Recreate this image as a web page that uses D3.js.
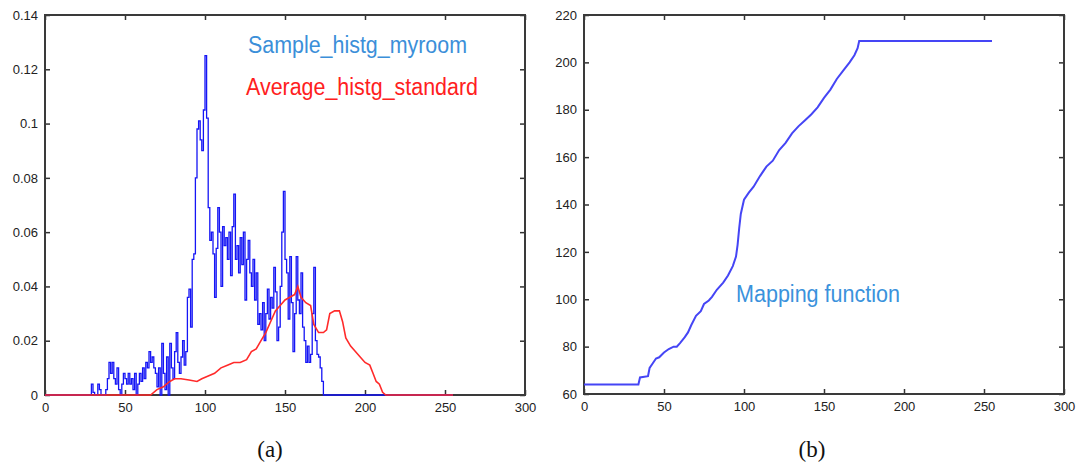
<!DOCTYPE html>
<html>
<head>
<meta charset="utf-8">
<script src="https://cdn.jsdelivr.net/npm/d3@7"></script>
<style>
  body { margin: 0; background: #fff; }
  .tick text { font-family: 'Liberation Sans', Arial, sans-serif; font-size: 13px; fill: #222; }
</style>
</head>
<body>
<div id="canvas"></div>
<script>
// panel (a): histograms, blue starts at bin 28
const blueStart = 28
const blueValues = [
  0, 0.004, 0.001, 0, 0, 0.004, 0.002, 0, 0, 0,
  0.002, 0.006, 0.012, 0.008, 0.012, 0.006, 0.004, 0.01, 0.002, 0,
  0.004, 0.008, 0.006, 0.004, 0.008, 0.004, 0.006, 0.002, 0.008, 0,
  0.004, 0.008, 0.005, 0.01, 0.006, 0.012, 0.01, 0.016, 0.012, 0.014,
  0.01, 0.008, 0.003, 0.01, 0, 0.019, 0.008, 0.002, 0.014, 0,
  0.019, 0.01, 0.006, 0.016, 0.023, 0.012, 0.008, 0.014, 0.02, 0.011,
  0.016, 0.036, 0.039, 0.025, 0.05, 0.052, 0.08, 0.098, 0.101, 0.094,
  0.09, 0.105, 0.125, 0.102, 0.069, 0.057, 0.06, 0.052, 0.036, 0.054,
  0.069, 0.06, 0.04, 0.062, 0.055, 0.058, 0.05, 0.06, 0.044, 0.062,
  0.074, 0.05, 0.055, 0.045, 0.058, 0.048, 0.06, 0.035, 0.05, 0.057,
  0.045, 0.04, 0.05, 0.035, 0.045, 0.026, 0.03, 0.024, 0.034, 0.02,
  0.03, 0.039, 0.028, 0.036, 0.032, 0.047, 0.038, 0.02, 0.025, 0.04,
  0.06, 0.075, 0.05, 0.045, 0.028, 0.051, 0.034, 0.016, 0.03, 0.051,
  0.035, 0.03, 0.045, 0.025, 0.02, 0.012, 0.018, 0.012, 0.015, 0.03,
  0.047, 0.02, 0.015, 0.014, 0.01, 0.005, 0, 0
]
const histEnd = 255

const redX = [0, 66, 70, 74, 78, 81, 85, 90, 95, 98, 102, 106, 110, 114, 118, 122, 126, 129, 132, 135,
  138, 141, 144, 147, 150, 153, 156, 158, 160, 163, 166, 168, 171, 174, 176, 178, 181, 184, 186, 188,
  191, 194, 197, 200, 203, 205, 207, 209, 211, 213, 255]
const redY = [0, 0, 0.002, 0.003, 0.005, 0.006, 0.006, 0.0055, 0.005, 0.006, 0.007, 0.008, 0.01, 0.011, 0.012, 0.012, 0.013, 0.016, 0.017, 0.02,
  0.023, 0.027, 0.031, 0.033, 0.035, 0.036, 0.037, 0.04, 0.036, 0.034, 0.033, 0.026, 0.023, 0.023, 0.024, 0.03, 0.031, 0.031, 0.027, 0.021,
  0.018, 0.016, 0.014, 0.012, 0.011, 0.008, 0.005, 0.004, 0.001, 0, 0]

const xTicks = [0, 50, 100, 150, 200, 250, 300]
const yTicksA = [0, 0.02, 0.04, 0.06, 0.08, 0.1, 0.12, 0.14]
const yTicksB = [60, 80, 100, 120, 140, 160, 180, 200, 220]

// panel (b): mapping function
const mapX = [0, 34, 35, 40, 41, 43, 45, 47, 50, 53, 56, 58, 60, 63, 65, 67, 70, 73, 75, 78,
  80, 83, 87, 90, 93, 95, 96, 97, 98, 100, 103, 106, 110, 114, 118, 122, 126, 130, 134, 138,
  142, 146, 150, 154, 158, 162, 166, 169, 171, 172, 255]
const mapY = [64, 64, 67, 67.5, 71, 73, 75, 75.5, 77.5, 79, 80, 80, 81.5, 84, 86, 89, 93, 95, 98, 99.5,
  101, 104, 107, 110, 114, 118, 123, 130, 136, 142, 145, 147.5, 152, 156, 158.5, 163, 166, 170, 173, 175.5,
  178, 181, 185, 188.5, 193, 196.5, 200, 203, 206, 209, 209]

const width = 1082
const height = 463

const svg = d3.select('#canvas')
  .append('svg')
    .attr('width', width)
    .attr('height', height)

function panel(box, yDomain, yTicks) {
  const g = svg.append('g')
  const x = d3.scaleLinear().domain([0, 300]).range([box.left, box.right])
  const y = d3.scaleLinear().domain(yDomain).range([box.bottom, box.top])
  const fmt = d => String(+d.toFixed(2))

  g.append('g')
    .attr('transform', `translate(0, ${box.bottom})`)
    .call(d3.axisBottom(x).tickValues(xTicks).tickSize(-5).tickSizeOuter(0).tickPadding(8).tickFormat(fmt))
  g.append('g')
    .attr('transform', `translate(0, ${box.top})`)
    .call(d3.axisTop(x).tickValues(xTicks).tickSize(-5).tickSizeOuter(0).tickFormat(''))
  g.append('g')
    .attr('transform', `translate(${box.left}, 0)`)
    .call(d3.axisLeft(y).tickValues(yTicks).tickSize(-5).tickSizeOuter(0).tickPadding(7).tickFormat(fmt))
  g.append('g')
    .attr('transform', `translate(${box.right}, 0)`)
    .call(d3.axisRight(y).tickValues(yTicks).tickSize(-5).tickSizeOuter(0).tickFormat(''))

  g.selectAll('.domain').remove()
  g.selectAll('.tick line').attr('stroke', '#333').attr('stroke-width', 1.5)

  return { g, x, y }
}

function frame(g, box) {
  g.append('rect')
    .attr('x', box.left)
    .attr('y', box.top)
    .attr('width', box.right - box.left)
    .attr('height', box.bottom - box.top)
    .attr('fill', 'none')
    .attr('stroke', '#3a3a3a')
    .attr('stroke-width', 2)
}

// (a)
const boxA = { left: 45, right: 525, top: 15, bottom: 395 }
const a = panel(boxA, [0, 0.14], yTicksA)

const bluePts = d3.range(0, histEnd + 1).map(i => {
  const k = i - blueStart
  return [i, k >= 0 && k < blueValues.length ? blueValues[k] : 0]
})
const redPts = redX.map((d, i) => [d, redY[i]])

frame(a.g, boxA)

a.g.append('path')
  .datum(bluePts)
  .attr('fill', 'none')
  .attr('stroke', '#1515f5')
  .attr('stroke-width', 1.3)
  .attr('d', d3.line().x(d => a.x(d[0])).y(d => a.y(d[1])).curve(d3.curveStepAfter))

a.g.append('path')
  .datum(redPts)
  .attr('fill', 'none')
  .attr('stroke', '#ff2a2a')
  .attr('stroke-width', 1.6)
  .attr('d', d3.line().x(d => a.x(d[0])).y(d => a.y(d[1])))

a.g.append('text')
  .attr('x', 248).attr('y', 53)
  .attr('font-family', 'Liberation Sans, Arial, sans-serif')
  .attr('font-size', 23)
  .attr('fill', '#3b8fd9')
  .attr('textLength', 219).attr('lengthAdjust', 'spacingAndGlyphs')
  .text('Sample_histg_myroom')

a.g.append('text')
  .attr('x', 246).attr('y', 95)
  .attr('font-family', 'Liberation Sans, Arial, sans-serif')
  .attr('font-size', 23)
  .attr('fill', '#ff2020')
  .attr('textLength', 232).attr('lengthAdjust', 'spacingAndGlyphs')
  .text('Average_histg_standard')

// (b)
const boxB = { left: 584, right: 1064, top: 15, bottom: 394 }
const b = panel(boxB, [60, 220], yTicksB)
frame(b.g, boxB)

b.g.append('path')
  .datum(mapX.map((d, i) => [d, mapY[i]]))
  .attr('fill', 'none')
  .attr('stroke', '#4545f5')
  .attr('stroke-width', 2)
  .attr('d', d3.line().x(d => b.x(d[0])).y(d => b.y(d[1])))

b.g.append('text')
  .attr('x', 736).attr('y', 302)
  .attr('font-family', 'Liberation Sans, Arial, sans-serif')
  .attr('font-size', 23)
  .attr('fill', '#3a92dc')
  .attr('textLength', 164).attr('lengthAdjust', 'spacingAndGlyphs')
  .text('Mapping function')

// captions
svg.selectAll('.caption')
  .data([{ t: '(a)', x: 270 }, { t: '(b)', x: 812 }])
  .enter()
  .append('text')
    .attr('class', 'caption')
    .attr('x', d => d.x)
    .attr('y', 457)
    .attr('text-anchor', 'middle')
    .attr('font-family', 'Liberation Serif, DejaVu Serif, serif')
    .attr('font-size', 23)
    .attr('fill', '#111')
    .text(d => d.t)
</script>
</body>
</html>
